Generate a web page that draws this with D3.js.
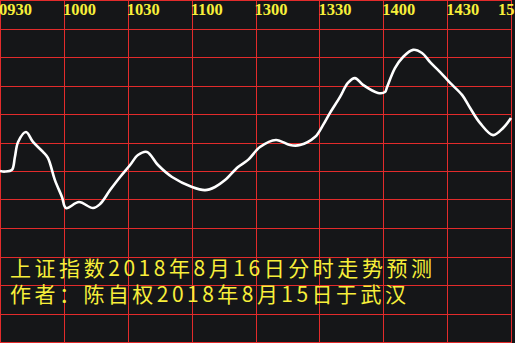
<!DOCTYPE html>
<html>
<head>
<meta charset="utf-8">
<script src="https://cdn.jsdelivr.net/npm/d3@7"></script>
<style>
  body { margin: 0; background: #151618; }
  svg { display: block; }
</style>
</head>
<body>
<div id="chart"></div>
<script>
// time axis labels (every 30 minutes of trading time)
var timeLabels = ['0930', '1000', '1030', '1100', '1300', '1330', '1400', '1430', '1500'];

// forecast curve: minutes since open, level (grid units)
var minutes = [0, 2.3, 5.6, 7, 8.5, 12.2, 15.5, 20.2, 22.5, 25.8, 29.1, 31, 37.1, 43.7, 47, 51.7, 56.4, 61.1,
  64.8, 69, 74.2, 80.8, 90.2, 96.3, 101, 105.7, 111.8, 116.5, 122.1, 129.6, 136.2, 140.9, 147.9, 151.7,
  155, 159.7, 163.4, 166.7, 170.5, 177.5, 180.8, 181.8, 185.5, 189.3, 194, 198.2, 202, 206.7, 211.4,
  217, 220.8, 225.5, 231.6, 236.3, 240];
var levels = [6.0, 5.98, 6.04, 6.49, 7.02, 7.37, 7.02, 6.67, 6.46, 5.68, 5.09, 4.70, 4.91, 4.70, 4.84, 5.33, 5.79, 6.21,
  6.56, 6.67, 6.21, 5.79, 5.44, 5.33, 5.44, 5.68, 6.14, 6.39, 6.84, 7.09, 6.91, 6.91, 7.19, 7.61,
  8.04, 8.60, 9.09, 9.26, 9.02, 8.74, 8.77, 8.95, 9.61, 10.0, 10.25, 10.14, 9.82, 9.47, 9.09,
  8.67, 8.21, 7.68, 7.26, 7.51, 7.86];

var titleLines = ['上证指数2018年8月16日分时走势预测', '作者：陈自权2018年8月15日于武汉'];

var width = 515, height = 343;
var plotW = 511, plotH = 342;

var svg = d3.select('#chart').append('svg')
  .attr('width', width)
  .attr('height', height);

svg.append('rect')
  .attr('width', width)
  .attr('height', height)
  .attr('fill', '#151618');

var x = d3.scaleLinear().domain([0, 240]).range([0, plotW]);
var y = d3.scaleLinear().domain([0, 12]).range([plotH, 0]);

// red grid
var grid = svg.append('g')
  .attr('stroke', '#e22b2b')
  .attr('stroke-width', 1)
  .attr('shape-rendering', 'crispEdges');

d3.range(0, 241, 30).forEach(function (m) {
  var px = Math.round(x(m)) + 0.5;
  grid.append('line').attr('x1', px).attr('x2', px).attr('y1', 0).attr('y2', plotH + 1);
});
d3.range(0, 13).forEach(function (v) {
  var py = Math.round(y(v)) + 0.5;
  grid.append('line').attr('x1', 0).attr('x2', plotW + 1).attr('y1', py).attr('y2', py);
});

// time labels along the top (last one runs off the right edge)
svg.selectAll('.tlabel')
  .data(timeLabels)
  .enter().append('text')
  .attr('class', 'tlabel')
  .attr('x', function (d, i) {
    var px = x(i * 30) - 1;
    return (i == timeLabels.length - 1) ? px - 12 : px;
  })
  .attr('y', 15)
  .attr('fill', '#f7ef3a')
  .style('font-family', '"Liberation Serif", serif')
  .style('font-weight', 'bold')
  .style('font-size', '16.5px')
  .text(function (d) { return d; });

// the curve
var pts = minutes.map(function (m, i) { return [m, levels[i]]; });
var line = d3.line()
  .x(function (d) { return x(d[0]); })
  .y(function (d) { return y(d[1]); })
  .curve(d3.curveCatmullRom.alpha(0.5));

svg.append('path')
  .datum(pts)
  .attr('d', line)
  .attr('fill', 'none')
  .attr('stroke', '#ffffff')
  .attr('stroke-width', 2.6)
  .attr('stroke-linejoin', 'round');

// caption
var lens = [422, 396];
svg.selectAll('.caption')
  .data(titleLines)
  .enter().append('text')
  .attr('class', 'caption')
  .attr('x', 10)
  .attr('y', function (d, i) { return 276 + i * 26; })
  .attr('textLength', function (d, i) { return lens[i]; })
  .attr('lengthAdjust', 'spacing')
  .attr('fill', '#f7ef3a')
  .style('font-family', '"Noto Sans CJK SC", sans-serif')
  .style('font-size', '21px')
  .text(function (d) { return d; });
</script>
</body>
</html>
